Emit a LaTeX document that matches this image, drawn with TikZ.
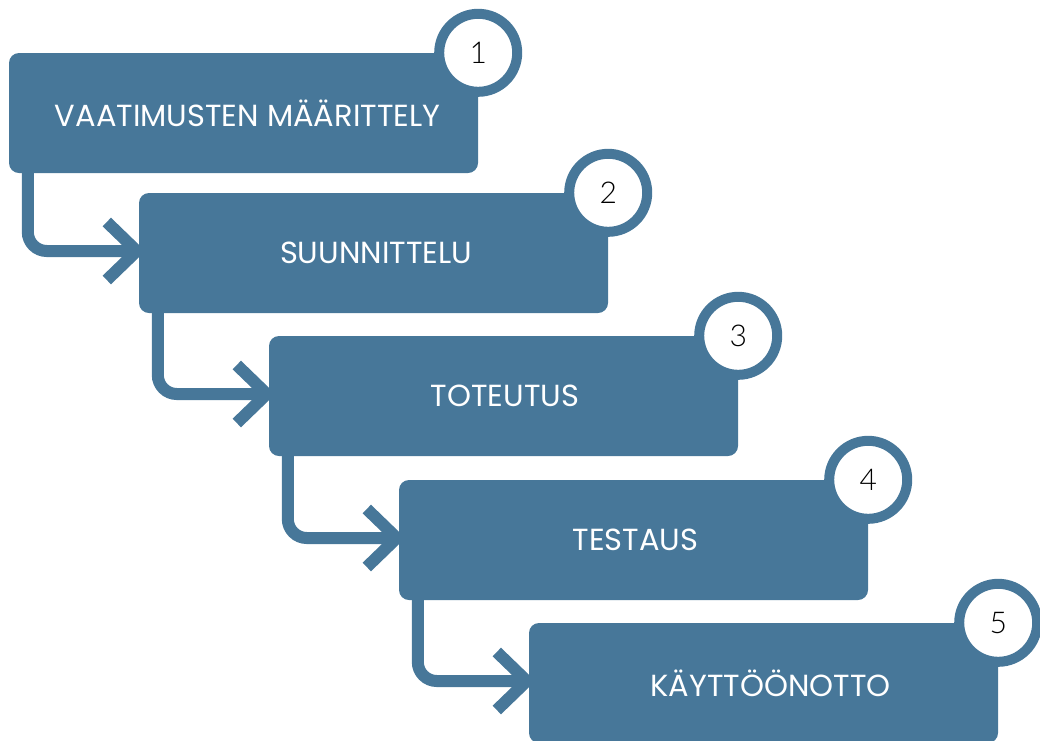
\documentclass[tikz,border=0pt]{standalone}
\usepackage{fontspec}
\setmainfont{Poppins}
\IfFontExistsTF{Lato Light}{\newfontfamily\numfont{Lato Light}}{\newfontfamily\numfont{Poppins}}
\definecolor{stepblue}{RGB}{71,119,153}
\pgfdeclarelayer{background}
\pgfsetlayers{background,main}
\tikzset{
  stepbox/.style={fill=stepblue, rounded corners=10pt, minimum width=469pt, minimum height=120pt, inner sep=0pt, text=white, font=\fontsize{30.5}{33}\selectfont},
  numcirc/.style={circle, draw=stepblue, line width=10pt, fill=white, minimum size=78pt, inner sep=0pt, font=\numfont\fontsize{30}{32}\selectfont, text=black},
  flowline/.style={draw=stepblue, line width=12pt, rounded corners=19pt},
  chevron/.style={draw=stepblue, line width=12pt}
}
\begin{document}
\begin{tikzpicture}[x=1pt,y=-1pt]
\useasboundingbox (0,0) rectangle (1040,740);
\clip (0,0) rectangle (1040,740);
% boxes (positioned by center)
\node[stepbox] (b1) at (243.5,113) {\hspace*{8pt}VAATIMUSTEN MÄÄRITTELY};
\node[stepbox] (b2) at (373.5,253) {\hspace*{5pt}SUUNNITTELU};
\node[stepbox] (b3) at (503.5,396) {\hspace*{3pt}TOTEUTUS};
\node[stepbox] (b4) at (633.5,540) {\hspace*{4pt}TESTAUS};
\node[stepbox] (b5) at (763.5,683) {\hspace*{14pt}KÄYTTÖÖNOTTO};
% arrows behind the boxes
\begin{pgfonlayer}{background}
\foreach \a/\b in {b1/b2,b2/b3,b3/b4,b4/b5}{
  \coordinate (s\a) at ([xshift=19pt,yshift=8pt]\a.south west);
  \coordinate (t\a) at ([xshift=-2pt,yshift=2pt]\b.west);
  \path[flowline] (s\a) |- (t\a);
  \path[chevron] ([xshift=-30pt,yshift=29pt]t\a) -- (t\a) -- ([xshift=-30pt,yshift=-29pt]t\a);
}
\end{pgfonlayer}
% number circles
\node[numcirc] (c1) at (b1.north east) {1};
\node[numcirc] (c2) at (b2.north east) {2};
\node[numcirc] (c3) at (b3.north east) {3};
\node[numcirc] (c4) at (b4.north east) {4};
\node[numcirc] (c5) at (b5.north east) {5};
\end{tikzpicture}
\end{document}
